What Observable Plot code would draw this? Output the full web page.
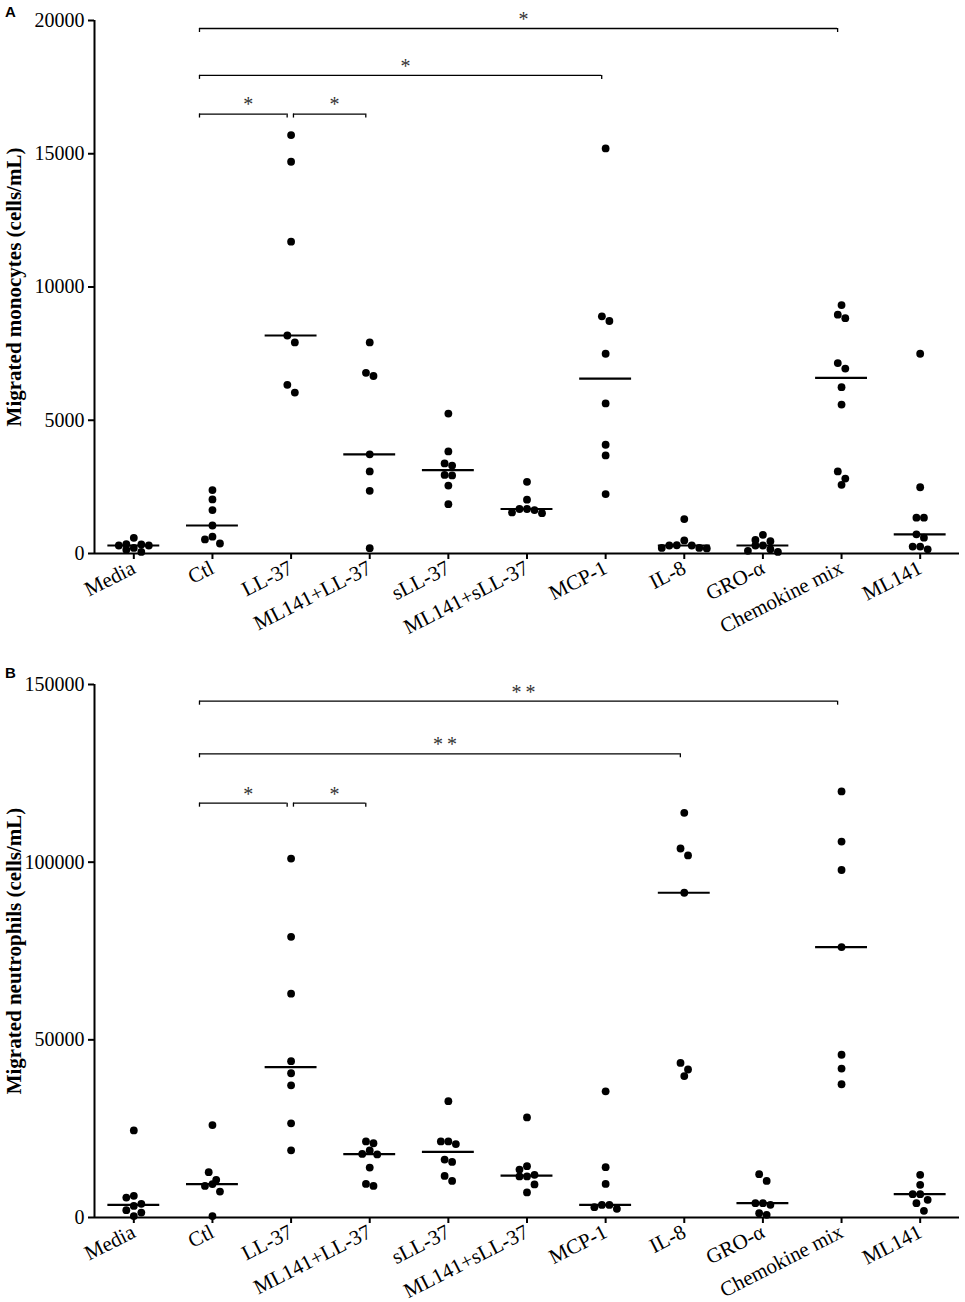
<!DOCTYPE html>
<html><head><meta charset="utf-8">
<script src="https://cdn.jsdelivr.net/npm/d3@7"></script>
<script src="https://cdn.jsdelivr.net/npm/@observablehq/plot@0.6"></script>
<style>
body{margin:0;background:#fff;}
#wrap{position:relative;width:965px;height:1302px;}
.panel-letter{position:absolute;left:5px;z-index:2;font:bold 15px "Liberation Sans",Arial,sans-serif;color:#000;}
svg{display:block}
</style></head><body>
<div id="wrap"><div class="panel-letter" style="top:3px">A</div><div class="panel-letter" style="top:664px">B</div></div>
<script>
// Categories (x axis)
const categories = ["Media","Ctl","LL-37","ML141+LL-37","sLL-37","ML141+sLL-37","MCP-1","IL-8","GRO-α","Chemokine mix","ML141"];

// Panel A: migrated monocytes (cells/mL)
const monoMedia      = [590, 350, 340, 300, 300, 210, 140, 60];
const monoCtl        = [2380, 2030, 1630, 1050, 630, 530, 375];
const monoLL37       = [15700, 14700, 11700, 8180, 7920, 6330, 6040];
const monoML141LL37  = [7920, 6780, 6660, 3720, 3080, 2350, 200];
const monoSLL37      = [5250, 3830, 3380, 3300, 2950, 2930, 2550, 1850];
const monoML141SLL37 = [2690, 2020, 1670, 1670, 1630, 1540, 1515];
const monoMCP1       = [15200, 8900, 8725, 7495, 5630, 4080, 3680, 2230];
const monoIL8        = [1290, 490, 310, 300, 300, 210, 210, 190];
const monoGROa       = [700, 510, 460, 300, 300, 160, 100, 60];
const monoChemoMix   = [9320, 8960, 8830, 7145, 6940, 6240, 5590, 3080, 2810, 2576];
const monoML141      = [7495, 2485, 1346, 1346, 720, 595, 260, 260, 155];
const monoTicks = [0, 5000, 10000, 15000, 20000];
const monoMax = 20000;
const monoTitle = "Migrated monocytes (cells/mL)";
const monoBrackets = [
  {from: "Ctl", to: "Chemokine mix", y: 19700, label: "*"},
  {from: "Ctl", to: "MCP-1", y: 17940, label: "*"},
  {from: "Ctl", to: "LL-37", y: 16490, label: "*"},
  {from: "LL-37", to: "ML141+LL-37", y: 16490, label: "*"}
];

// Panel B: migrated neutrophils (cells/mL)
const neuMedia      = [24500, 6100, 5600, 3850, 3250, 2050, 1400, 400];
const neuCtl        = [26000, 12750, 10600, 9400, 8900, 7300, 400];
const neuLL37       = [101000, 79000, 63000, 44000, 40600, 37200, 26500, 18900];
const neuML141LL37  = [21400, 20900, 18850, 17900, 17750, 14050, 9450, 8900];
const neuSLL37      = [32750, 21400, 21400, 20650, 16300, 15650, 11700, 10300];
const neuML141SLL37 = [28150, 14450, 13500, 12000, 11550, 11550, 9300, 7050];
const neuMCP1       = [35500, 14150, 9450, 3550, 3550, 2900, 2450];
const neuIL8        = [113900, 103850, 101900, 91400, 43500, 41650, 39800];
const neuGROa       = [12200, 10300, 4030, 4030, 3560, 1220, 750];
const neuChemoMix   = [119900, 105800, 97800, 76100, 45800, 41900, 37500];
const neuML141      = [12000, 9200, 6570, 6570, 4970, 4030, 1880];
const neuTicks = [0, 50000, 100000, 150000];
const neuMax = 150000;
const neuTitle = "Migrated neutrophils (cells/mL)";
const neuBrackets = [
  {from: "Ctl", to: "Chemokine mix", y: 145300, label: "*\u2009*"},
  {from: "Ctl", to: "IL-8", y: 130500, label: "*\u2009*"},
  {from: "Ctl", to: "LL-37", y: 116600, label: "*"},
  {from: "LL-37", to: "ML141+LL-37", y: 116600, label: "*"}
];

const monoGroups = [monoMedia, monoCtl, monoLL37, monoML141LL37, monoSLL37, monoML141SLL37, monoMCP1, monoIL8, monoGROa, monoChemoMix, monoML141];
const neuGroups  = [neuMedia, neuCtl, neuLL37, neuML141LL37, neuSLL37, neuML141SLL37, neuMCP1, neuIL8, neuGROa, neuChemoMix, neuML141];

const FONT = "'Liberation Serif','Times New Roman',serif";
const W = 965, ML = 94, MR = 6;
const stepPx = (W - ML - MR) / categories.length;

// column-scatter layout: points closer than rowPx vertically share a row, spread symmetrically
function scatterOffsets(values, pxPerUnit) {
  const d = 7.5, rowPx = 9;
  const order = values.map((v, i) => i).sort((a, b) => values[b] - values[a]);
  const rows = [];
  for (const i of order) {
    const y = values[i] * pxPerUnit;
    const last = rows[rows.length - 1];
    if (last && last.top - y < rowPx) last.items.push(i);
    else rows.push({top: y, items: [i]});
  }
  const off = new Array(values.length);
  for (const row of rows) {
    const n = row.items.length;
    const slots = d3.range(n).map(j => (j - (n - 1) / 2) * d)
      .sort((a, b) => Math.abs(a) - Math.abs(b) || a - b);
    row.items.forEach((i, j) => off[i] = slots[j] / stepPx);
  }
  return off;
}

function panel({groups, yMax, ticks, title, brackets, height, marginTop, marginBottom}) {
  const plotH = height - marginTop - marginBottom;
  const pxPerUnit = plotH / yMax;
  const rows = [];
  groups.forEach((vals, i) => {
    const off = scatterOffsets(vals, pxPerUnit);
    vals.forEach((v, j) => rows.push({i, v, off: off[j]}));
  });
  const medians = groups.map((vals, i) => ({i, m: d3.median(vals)}));
  const idx = c => categories.indexOf(c);
  const br = brackets.map(b => ({
    x1: idx(b.from) + (b.from === "Ctl" ? -0.165 : 0.03),
    x2: idx(b.to) - 0.05,
    y: b.y, label: b.label
  }));
  const hook = 4 / pxPerUnit;
  const ends = br.flatMap(b => [{x: b.x1, y: b.y}, {x: b.x2, y: b.y}]);
  return Plot.plot({
    width: W, height, marginLeft: ML, marginRight: MR, marginTop, marginBottom,
    style: {fontFamily: FONT, fontSize: "20px", color: "#000", background: "transparent", overflow: "visible"},
    x: {domain: [-0.5, categories.length - 0.5]},
    y: {domain: [0, yMax]},
    marks: [
      Plot.ruleY([0], {strokeWidth: 2}),
      Plot.ruleX([-0.5], {y1: 0, y2: yMax, strokeWidth: 2}),
      Plot.axisY({ticks, tickFormat: d3.format("d"), tickSize: 6, tickPadding: 4, strokeWidth: 2, fontSize: 20, label: null}),
      Plot.axisX({ticks: d3.range(categories.length), tickFormat: i => categories[i], tickSize: 6, tickPadding: 7,
        strokeWidth: 2, tickRotate: -27, textAnchor: "end", fontSize: 21, label: null}),
      Plot.text([title], {text: d => d, frameAnchor: "left", textAnchor: "middle", lineAnchor: "middle", rotate: -90, dx: -80,
        fontWeight: "bold", fontSize: 21, fontFamily: FONT}),
      Plot.ruleY(br, {y: "y", x1: "x1", x2: "x2", strokeWidth: 1.3}),
      Plot.ruleX(ends, {x: "x", y1: "y", y2: d => d.y - hook, strokeWidth: 1.3}),
      Plot.text(br, {x: d => (d.x1 + d.x2) / 2, y: "y", text: "label", dx: 5, dy: -9, fontSize: 20, fill: "#333", lineAnchor: "middle"}),
      Plot.ruleY(medians, {y: "m", x1: d => d.i - 0.33, x2: d => d.i + 0.33, strokeWidth: 2.2}),
      Plot.dot(rows, {x: d => d.i + d.off, y: "v", r: 3.9, fill: "#000", stroke: "none"})
    ]
  });
}

const wrap = document.getElementById("wrap");
wrap.appendChild(panel({groups: monoGroups, yMax: monoMax, ticks: monoTicks, title: monoTitle, brackets: monoBrackets,
  height: 660, marginTop: 20, marginBottom: 107}));
wrap.appendChild(panel({groups: neuGroups, yMax: neuMax, ticks: neuTicks, title: neuTitle, brackets: neuBrackets,
  height: 642, marginTop: 24, marginBottom: 85}));
</script>
</body></html>
